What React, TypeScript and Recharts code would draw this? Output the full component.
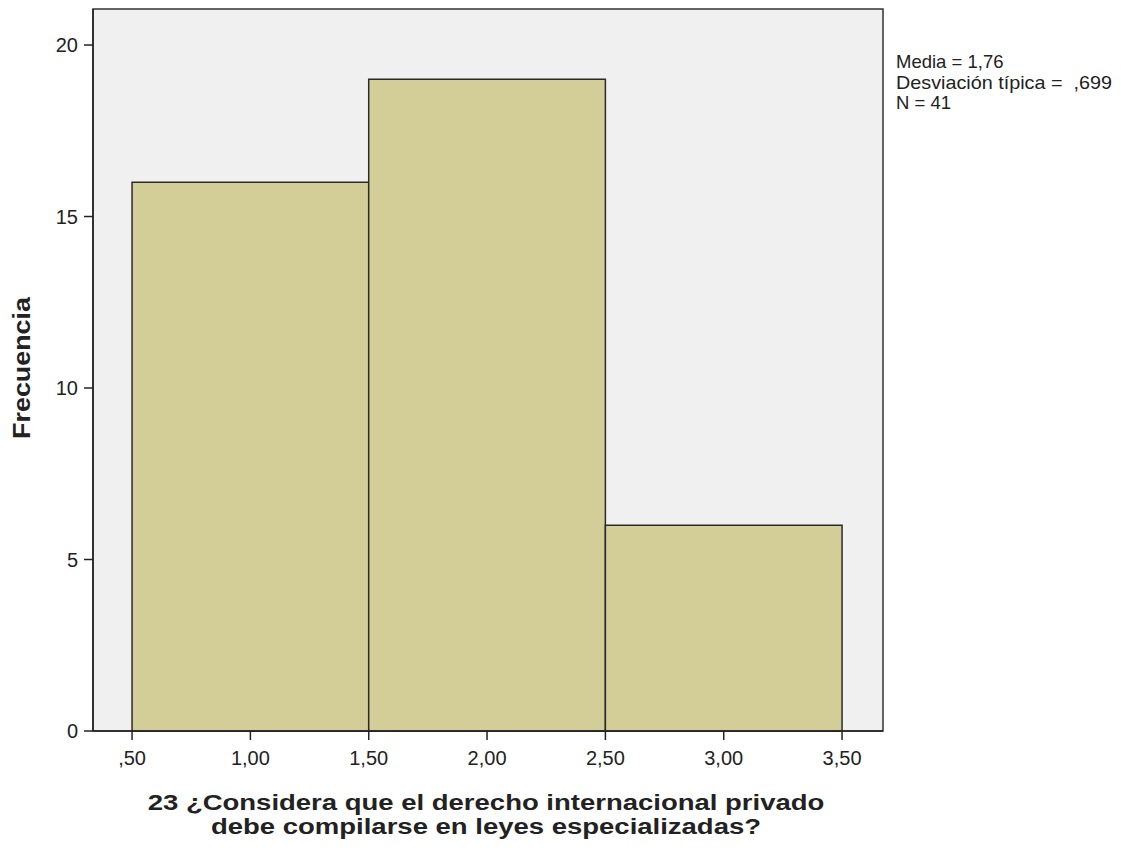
import React from "react";
import { ComposedChart, XAxis, YAxis, ReferenceArea, Line } from "recharts";

const binStarts = [0.5, 1.5, 2.5];
const binEnds = [1.5, 2.5, 3.5];
const counts = [16, 19, 6];
const xTicks = [0.5, 1.0, 1.5, 2.0, 2.5, 3.0, 3.5];
const yTicks = [0, 5, 10, 15, 20];
const statsLines = ["Media = 1,76", "Desviación típica =  ,699", "N = 41"];
const xLabelLines = [
  "23 ¿Considera que el derecho internacional privado",
  "debe compilarse en leyes especializadas?",
];
const yLabel = "Frecuencia";

const X_MIN = 0.335;
const X_MAX = 3.673;
const Y_MAX = 21.05;

const data = binStarts.map((s, i) => ({ mid: (s + binEnds[i]) / 2, count: counts[i] }));

const fmtX = (v: number) => {
  const s = v.toFixed(2).replace(".", ",");
  return s.startsWith("0") ? s.slice(1) : s;
};

const FONT = "'Liberation Sans', Arial, sans-serif";

export default function App() {
  return (
    <div style={{ position: "absolute", left: 0, top: 0, width: 1121, height: 848, background: "#fff" }}>
      <ComposedChart
        width={1121}
        height={848}
        data={data}
        margin={{ top: 9, right: 238, left: 0, bottom: 0 }}
      >
        <XAxis
          dataKey="mid"
          type="number"
          domain={[X_MIN, X_MAX]}
          ticks={xTicks}
          tickFormatter={fmtX}
          height={117}
          allowDataOverflow
          stroke="#222"
          tickLine={{ stroke: "#222", strokeWidth: 1.5 }}
          axisLine={{ stroke: "#222", strokeWidth: 1.5 }}
          tickSize={9}
          tickMargin={11}
          tick={{ fill: "#222", fontSize: 20, fontFamily: FONT }}
        />
        <YAxis
          type="number"
          domain={[0, Y_MAX]}
          ticks={yTicks}
          width={93}
          allowDataOverflow
          stroke="#222"
          tickLine={{ stroke: "#222", strokeWidth: 1.5 }}
          axisLine={{ stroke: "#222", strokeWidth: 1.5 }}
          tickSize={9}
          tickMargin={6}
          tick={{ fill: "#222", fontSize: 20, fontFamily: FONT }}
        />
        <ReferenceArea
          x1={X_MIN}
          x2={X_MAX}
          y1={0}
          y2={Y_MAX}
          fill="#F0F0F0"
          fillOpacity={1}
          stroke="#333"
          strokeWidth={1.5}
          ifOverflow="visible"
        />
        {binStarts.map((s, i) => (
          <ReferenceArea
            key={i}
            x1={s}
            x2={binEnds[i]}
            y1={0}
            y2={counts[i]}
            fill="#D3CE97"
            fillOpacity={1}
            stroke="#2b2b2b"
            strokeWidth={1.5}
            ifOverflow="visible"
          />
        ))}
        <Line dataKey="count" stroke="none" dot={false} isAnimationActive={false} legendType="none" />
      </ComposedChart>
      <svg
        width={1121}
        height={848}
        style={{ position: "absolute", left: 0, top: 0, pointerEvents: "none" }}
      >
        <g fontFamily={FONT} fontSize={18.5} fill="#222">
          {statsLines.map((l, i) => (
            <text
              key={i}
              x={896}
              y={68 + i * 20.5}
              textLength={i === 1 ? 216 : undefined}
              lengthAdjust="spacingAndGlyphs"
              style={{ whiteSpace: "pre" }}
            >
              {l}
            </text>
          ))}
        </g>
        <g transform="translate(30,368) rotate(-90) scale(1.12,1)">
          <text x={0} y={0} textAnchor="middle" fontFamily={FONT} fontSize={24} fontWeight="bold" fill="#222">
            {yLabel}
          </text>
        </g>
        <g transform="translate(486,0) scale(1.25,1)">
          {xLabelLines.map((l, i) => (
            <text
              key={i}
              x={0}
              y={810 + i * 24}
              textAnchor="middle"
              fontFamily={FONT}
              fontSize={22}
              fontWeight="bold"
              fill="#222"
            >
              {l}
            </text>
          ))}
        </g>
      </svg>
    </div>
  );
}
